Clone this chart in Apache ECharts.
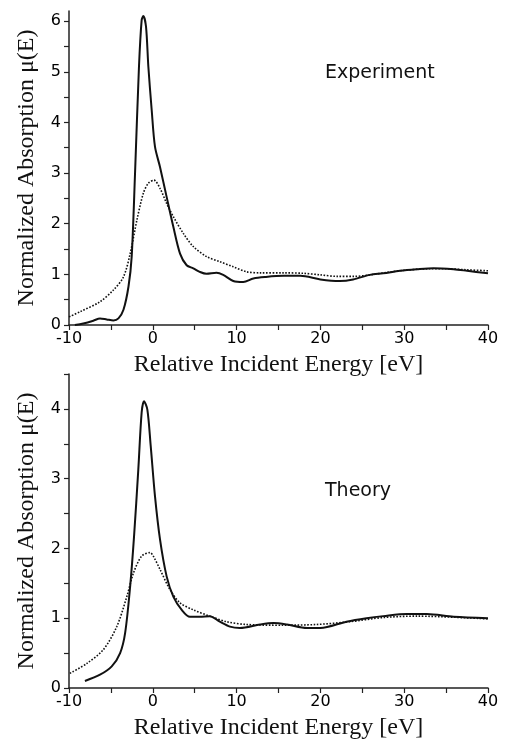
<!DOCTYPE html>
<html>
<head>
<meta charset="utf-8">
<script src="https://cdn.jsdelivr.net/npm/echarts@6/dist/echarts.min.js"></script>
<style>html,body{margin:0;padding:0;background:#fff;}#c{width:505px;height:746px;}</style>
</head>
<body>
<div id="c"></div>
<script>
// Top panel (Experiment): [energy eV, mu(E)]
var expSolid = [[-9.3,0.0],[-8.3,0.03],[-7.1,0.085],[-6.3,0.13],[-5.5,0.11],[-4.7,0.09],[-4.1,0.13],[-3.5,0.3],[-2.9,0.76],[-2.52,1.35],[-2.12,2.99],[-1.65,5.1],[-1.33,6.02],[-1.13,6.1],[-0.81,5.89],[-0.53,5.1],[-0.13,4.24],[0.26,3.52],[0.86,3.12],[1.65,2.53],[2.45,1.94],[3.25,1.41],[4.04,1.18],[4.83,1.12],[5.6,1.05],[6.4,1.01],[7.6,1.03],[8.4,0.99],[9.6,0.87],[10.8,0.85],[12.0,0.92],[13.5,0.95],[15.6,0.97],[17.6,0.97],[20.0,0.90],[22.3,0.87],[23.9,0.90],[25.9,0.99],[27.5,1.02],[29.5,1.07],[31.5,1.10],[33.5,1.12],[35.9,1.10],[37.5,1.07],[40,1.02]];
var expDotted = [[-10,0.16],[-8.7,0.26],[-6.3,0.46],[-4.7,0.69],[-3.5,0.95],[-2.7,1.41],[-1.9,2.07],[-1.13,2.6],[-0.53,2.8],[0.14,2.86],[0.86,2.70],[1.65,2.40],[2.45,2.14],[3.64,1.81],[4.83,1.55],[6.43,1.35],[8.0,1.25],[9.6,1.15],[11.2,1.05],[12.8,1.03],[15.6,1.03],[18,1.02],[20,0.99],[22,0.96],[24,0.96],[26,0.99],[28,1.04],[30,1.08],[33,1.11],[35,1.11],[37.5,1.09],[40,1.07]];
// Bottom panel (Theory)
var thSolid = [[-8.1,0.10],[-6.3,0.19],[-4.9,0.31],[-3.9,0.5],[-3.3,0.79],[-2.7,1.46],[-2.24,2.17],[-1.73,3.13],[-1.33,3.95],[-1.05,4.11],[-0.65,3.99],[-0.25,3.47],[0.26,2.75],[0.86,2.13],[1.65,1.60],[2.45,1.31],[3.45,1.12],[4.44,1.02],[5.6,1.02],[6.8,1.03],[8.0,0.95],[9.2,0.88],[10.4,0.86],[12.8,0.91],[14.4,0.93],[16.0,0.91],[18.4,0.86],[20.0,0.86],[23.1,0.95],[25.5,1.0],[27.5,1.03],[30.3,1.06],[32.7,1.06],[35.9,1.02],[40,1.00]];
var thDotted = [[-9.9,0.21],[-7.9,0.35],[-5.9,0.55],[-4.3,0.88],[-3.1,1.31],[-2.3,1.65],[-1.33,1.89],[-0.33,1.94],[0.06,1.89],[0.86,1.70],[2.05,1.41],[3.25,1.22],[4.83,1.12],[6.8,1.03],[8.8,0.95],[11.2,0.91],[15.6,0.90],[19.5,0.91],[23.5,0.95],[27.5,1.01],[31.5,1.03],[40,0.99]];

var xTicks = [-10,-5,0,5,10,15,20,25,30,35,40];
var yLabelsTop = [0,1,2,3,4,5,6];
var yTicksTop = [0,0.5,1,1.5,2,2.5,3,3.5,4,4.5,5,5.5,6];
var yLabelsBot = [0,1,2,3,4];
var yTicksBot = [0,0.5,1,1.5,2,2.5,3,3.5,4,4.5];
var xName = 'Relative Incident Energy [eV]';
var yName = 'Normalized Absorption \u03bc(E)';

var axisLine = {show:true, onZero:false, lineStyle:{color:'#222', width:1.5}};
var labelStyle = {fontFamily:'DejaVu Sans', fontSize:16, color:'#000'};
var nameStyle = {fontFamily:'Liberation Serif', fontSize:24, color:'#111'};

function xAx(gi){
  return {type:'value', gridIndex:gi, min:-10, max:40, interval:10,
    axisLine:axisLine, splitLine:{show:false},
    axisTick:{show:true, inside:false, length:5, customValues:xTicks, lineStyle:{color:'#222',width:1.2}},
    axisLabel:Object.assign({margin:6}, labelStyle),
    name:xName, nameLocation:'middle', nameGap:28, nameTextStyle:nameStyle};
}
function yAx(gi, max, labs, ticks){
  return {type:'value', gridIndex:gi, min:0, max:max, interval:1,
    axisLine:axisLine, splitLine:{show:false},
    axisTick:{show:true, inside:false, length:5, customValues:ticks, lineStyle:{color:'#222',width:1.2}},
    axisLabel:Object.assign({margin:8, customValues:labs}, labelStyle),
    name:yName, nameLocation:'middle', nameGap:30, nameTextStyle:nameStyle};
}
function ser(data, xi, dotted){
  return {type:'line', xAxisIndex:xi, yAxisIndex:xi, data:data, showSymbol:false, smooth:0.3,
    silent:true, animation:false,
    lineStyle: dotted ? {color:'#111', width:1.6, type:[1.6,1.6]} : {color:'#111', width:2}};
}

var chart = echarts.init(document.getElementById('c'), null, {renderer:'canvas'});
chart.setOption({
  animation:false,
  backgroundColor:'#fff',
  grid:[{left:69, top:11, width:419, height:314},{left:69, top:374, width:419, height:314}],
  xAxis:[xAx(0), xAx(1)],
  yAxis:[yAx(0, 6.2, yLabelsTop, yTicksTop), yAx(1, 4.5, yLabelsBot, yTicksBot)],
  series:[ser(expSolid,0,false), ser(expDotted,0,true), ser(thSolid,1,false), ser(thDotted,1,true)],
  graphic:[
    {type:'text', left:325, top:64, style:{text:'Experiment', font:'19px "DejaVu Sans"', fill:'#111'}},
    {type:'text', left:325, top:482, style:{text:'Theory', font:'19px "DejaVu Sans"', fill:'#111'}}
  ]
});
</script>
</body>
</html>
